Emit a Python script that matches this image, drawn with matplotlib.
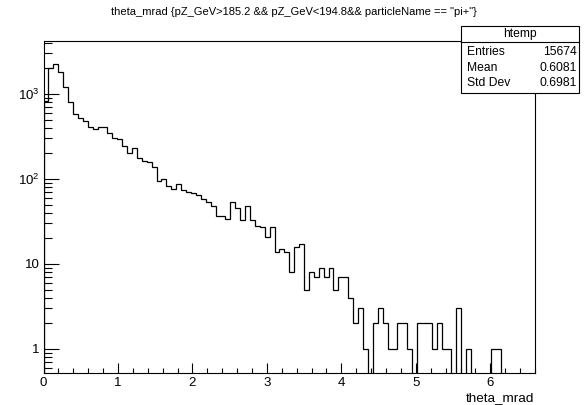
import numpy as np
import matplotlib
matplotlib.use('Agg')
import matplotlib.pyplot as plt
from matplotlib.ticker import FixedLocator, MultipleLocator, LogLocator, NullFormatter

plt.rcParams['font.family'] = ['Liberation Sans', 'DejaVu Sans']
plt.rcParams['mathtext.fontset'] = 'custom'
plt.rcParams['mathtext.rm'] = 'Liberation Sans'

# histogram contents (100 bins from 0 to 6.6 mrad)
x_min, x_max, n_bins = 0.0, 6.6, 100
counts = [
    820, 2040, 2255, 1830, 1197, 812, 577, 518, 485, 405,
    387, 413, 405, 345, 301, 293, 246, 204, 230, 175,
    163, 157, 137, 95, 101, 83, 76, 87, 74, 70,
    68, 64, 58, 54, 48, 37, 37, 34, 53, 45,
    33, 48, 33, 28, 27, 21, 27, 14, 15, 14,
    8, 16, 17, 5, 8, 7, 9, 7, 9, 5,
    7, 7, 4, 2, 3, 1, 0, 2, 3, 2,
    1, 1, 2, 2, 1, 0, 2, 2, 2, 1,
    2, 1, 1, 0, 3, 0, 1, 0, 0, 0,
    0, 1, 1, 0, 0, 0, 0, 0, 0, 0,
]
assert len(counts) == n_bins

title = 'theta_mrad {pZ_GeV>185.2 && pZ_GeV<194.8&& particleName == "pi+"}'
x_title = 'theta_mrad'
hist_name = 'htemp'
stat_labels = ['Entries', 'Mean', 'Std Dev']
stat_values = ['15674', '0.6081', '0.6981']

y_lo, y_hi = 0.526, 4240
y_ticks = [1, 10, 100, 1000]
y_ticklabels = ['1', '10', r'$\mathregular{10^{2}}$', r'$\mathregular{10^{3}}$']

W, H = 588, 405
fig = plt.figure(figsize=(W / 100, H / 100), dpi=100)
ax = fig.add_axes([43.5 / W, 1 - 372.7 / H, (535 - 43.5) / W, (372.7 - 40.7) / H])

edges = np.linspace(x_min, x_max, n_bins + 1)
vals = np.array(counts, dtype=float)
# empty bins drop down to the bottom of the frame, like ROOT does on a log axis
vals = np.where(vals > 0, vals, y_lo * 0.01)
ax.stairs(vals, edges, baseline=y_lo * 0.01, color='black', linewidth=0.9)

ax.set_yscale('log')
ax.set_xlim(x_min, x_max)
ax.set_ylim(y_lo, y_hi)

ax.xaxis.set_major_locator(MultipleLocator(1))
ax.xaxis.set_minor_locator(MultipleLocator(0.2))
ax.yaxis.set_major_locator(FixedLocator(y_ticks))
ax.set_yticklabels(y_ticklabels)
ax.yaxis.set_minor_locator(LogLocator(base=10, subs=np.arange(2, 10)))
ax.yaxis.set_minor_formatter(NullFormatter())

ax.tick_params(axis='x', which='major', direction='in', length=7.2, width=0.8,
               labelsize=9.5, pad=3, top=False)
ax.tick_params(axis='x', which='minor', direction='in', length=3.6, width=0.8, top=False)
ax.tick_params(axis='y', which='major', direction='in', length=11, width=0.8,
               labelsize=9.5, pad=3, right=False)
ax.tick_params(axis='y', which='minor', direction='in', length=5.6, width=0.8, right=False)
for s in ax.spines.values():
    s.set_linewidth(0.8)

fig.text(0.5, 1 - 12 / H, title, ha='center', va='center', fontsize=8)
fig.text(534 / W, 1 - 401.5 / H, x_title, ha='right', va='baseline', fontsize=9.7)

# stats box
bx0, bx1, by0, by1, bsep = 461, 579, 26, 92.7, 42.3
box = plt.Rectangle((bx0 / W, 1 - by1 / H), (bx1 - bx0) / W, (by1 - by0) / H,
                    transform=fig.transFigure, facecolor='white',
                    edgecolor='black', linewidth=0.8, zorder=5)
fig.add_artist(box)
fig.add_artist(plt.Line2D([bx0 / W, bx1 / W], [1 - bsep / H, 1 - bsep / H],
                          transform=fig.transFigure, color='black',
                          linewidth=0.8, zorder=6))
fig.text((bx0 + bx1) / 2 / W, 1 - 34.2 / H, hist_name, ha='center', va='center',
         fontsize=8.7, zorder=7)
for i, (lab, val) in enumerate(zip(stat_labels, stat_values)):
    yy = 1 - (52.3 + i * 15.5) / H
    fig.text(467 / W, yy, lab, ha='left', va='center', fontsize=8.7, zorder=7)
    fig.text(576.5 / W, yy, val, ha='right', va='center', fontsize=8.7, zorder=7)

fig.savefig('out.png', dpi=100)
